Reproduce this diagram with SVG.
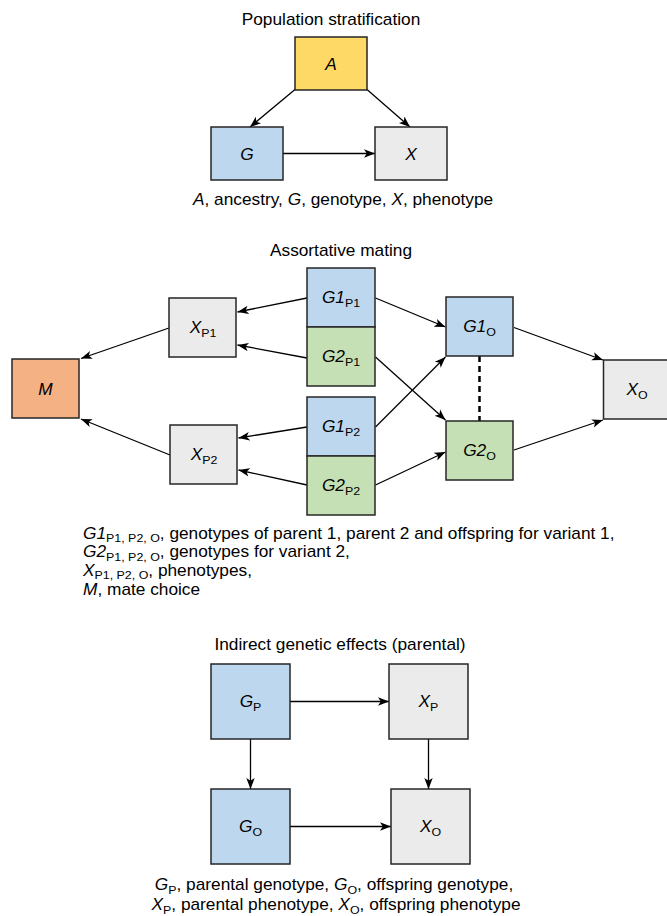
<svg xmlns="http://www.w3.org/2000/svg" width="667" height="916" viewBox="0 0 667 916">
<style>
text{font-family:"Liberation Sans",Arial,Helvetica,sans-serif;font-size:16px;fill:#000}
.i{font-style:italic}
.s{font-size:11.5px;font-style:normal}
.c{text-anchor:middle}
.box{stroke:#262626;stroke-width:1.5}
.yel{fill:#FFD966}.blu{fill:#BDD7EE}.grn{fill:#C5E0B4}.gry{fill:#EBEBEB}.org{fill:#F4B183}
.ln{stroke:#000;stroke-width:1.3;fill:none;marker-end:url(#ah)}
.dash{stroke:#000;stroke-width:2.5;stroke-dasharray:6 4;fill:none}
</style>
<defs>
<marker id="ah" markerUnits="userSpaceOnUse" markerWidth="12" markerHeight="10" viewBox="0 0 12 10" refX="11" refY="5" orient="auto">
<path d="M0,0.8 L11,5 L0,9.2 L2.8,5 Z" fill="#000"/>
</marker>
</defs>

<!-- Titles and captions -->
<g id="titles">
<g transform="translate(331,25) scale(1.08,1)"><text class="c">Population stratification</text></g>
<g transform="translate(193,204.5) scale(1.08,1)"><text><tspan class="i">A</tspan>, ancestry, <tspan class="i">G</tspan>, genotype, <tspan class="i">X</tspan>, phenotype</text></g>
<g transform="translate(341,255.5) scale(1.08,1)"><text class="c">Assortative mating</text></g>
<g transform="translate(83,538.5) scale(1.08,1)"><text><tspan class="i">G1</tspan><tspan class="s" dy="3.5">P1, P2, O</tspan><tspan dy="-3.5">, genotypes of parent 1, parent 2 and offspring for variant 1,</tspan></text></g>
<g transform="translate(83,557) scale(1.08,1)"><text><tspan class="i">G2</tspan><tspan class="s" dy="3.5">P1, P2, O</tspan><tspan dy="-3.5">, genotypes for variant 2,</tspan></text></g>
<g transform="translate(83,575.5) scale(1.08,1)"><text><tspan class="i">X</tspan><tspan class="s" dy="3.5">P1, P2, O</tspan><tspan dy="-3.5">, phenotypes,</tspan></text></g>
<g transform="translate(83,594.5) scale(1.08,1)"><text><tspan class="i">M</tspan>, mate choice</text></g>
<g transform="translate(340,649.5) scale(1.08,1)"><text class="c">Indirect genetic effects (parental)</text></g>
<g transform="translate(334,890) scale(1.08,1)"><text class="c"><tspan class="i">G</tspan><tspan class="s" dy="3.5">P</tspan><tspan dy="-3.5">, parental genotype, </tspan><tspan class="i">G</tspan><tspan class="s" dy="3.5">O</tspan><tspan dy="-3.5">, offspring genotype,</tspan></text></g>
<g transform="translate(336,910) scale(1.08,1)"><text class="c"><tspan class="i">X</tspan><tspan class="s" dy="3.5">P</tspan><tspan dy="-3.5">, parental phenotype, </tspan><tspan class="i">X</tspan><tspan class="s" dy="3.5">O</tspan><tspan dy="-3.5">, offspring phenotype</tspan></text></g>
</g>

<!-- Connectors -->
<g id="connectors">
<line class="ln" x1="295" y1="89.5" x2="250" y2="127"/>
<line class="ln" x1="367" y1="89.5" x2="410" y2="127"/>
<line class="ln" x1="283" y1="153.5" x2="375" y2="153.5"/>

<line class="ln" x1="307" y1="298" x2="237.5" y2="312"/>
<line class="ln" x1="307" y1="358" x2="237.5" y2="345"/>
<line class="ln" x1="169" y1="328" x2="81" y2="358.5"/>
<line class="ln" x1="170" y1="455" x2="81" y2="419"/>
<line class="ln" x1="307" y1="427" x2="238.5" y2="438"/>
<line class="ln" x1="307" y1="485" x2="238.5" y2="470"/>
<line class="ln" x1="375.5" y1="298" x2="445.5" y2="327"/>
<line class="ln" x1="375.5" y1="357" x2="445.5" y2="420"/>
<line class="ln" x1="375.5" y1="427" x2="445.5" y2="357"/>
<line class="ln" x1="375.5" y1="485" x2="445.5" y2="452"/>
<line class="ln" x1="514" y1="327.5" x2="603" y2="360"/>
<line class="ln" x1="514" y1="450" x2="603" y2="420"/>
<line class="dash" x1="479.5" y1="356" x2="479.5" y2="421"/>

<line class="ln" x1="290" y1="701.5" x2="389" y2="701.5"/>
<line class="ln" x1="250.5" y1="739" x2="250.5" y2="789"/>
<line class="ln" x1="428.5" y1="739" x2="428.5" y2="789"/>
<line class="ln" x1="290" y1="826.5" x2="391" y2="826.5"/>
</g>

<!-- Population stratification -->
<g id="nA"><rect class="box yel" x="295" y="37" width="72" height="53"/><g transform="translate(331,69.5) scale(1.08,1)"><text class="c i">A</text></g></g>
<g id="nG"><rect class="box blu" x="211" y="127" width="72" height="53"/><g transform="translate(247,159.5) scale(1.08,1)"><text class="c i">G</text></g></g>
<g id="nX"><rect class="box gry" x="375" y="127" width="72" height="53"/><g transform="translate(411,159.5) scale(1.08,1)"><text class="c i">X</text></g></g>

<!-- Assortative mating -->
<g id="nM"><rect class="box org" x="12" y="359" width="67" height="59"/><g transform="translate(45.5,394.5) scale(1.08,1)"><text class="c i">M</text></g></g>
<g id="nXP1"><rect class="box gry" x="169" y="298" width="67" height="59"/><g transform="translate(203,333) scale(1.08,1)"><text class="c"><tspan class="i">X</tspan><tspan class="s" dy="4">P1</tspan></text></g></g>
<g id="nXP2"><rect class="box gry" x="170" y="425" width="67" height="59"/><g transform="translate(204,460) scale(1.08,1)"><text class="c"><tspan class="i">X</tspan><tspan class="s" dy="4">P2</tspan></text></g></g>
<g id="nG1P1"><rect class="box blu" x="307" y="268" width="68" height="59"/><g transform="translate(341,303) scale(1.08,1)"><text class="c"><tspan class="i">G1</tspan><tspan class="s" dy="4">P1</tspan></text></g></g>
<g id="nG2P1"><rect class="box grn" x="307" y="327" width="68" height="59"/><g transform="translate(341,362) scale(1.08,1)"><text class="c"><tspan class="i">G2</tspan><tspan class="s" dy="4">P1</tspan></text></g></g>
<g id="nG1P2"><rect class="box blu" x="307" y="397" width="68" height="59"/><g transform="translate(341,432) scale(1.08,1)"><text class="c"><tspan class="i">G1</tspan><tspan class="s" dy="4">P2</tspan></text></g></g>
<g id="nG2P2"><rect class="box grn" x="307" y="456" width="68" height="59"/><g transform="translate(341,491) scale(1.08,1)"><text class="c"><tspan class="i">G2</tspan><tspan class="s" dy="4">P2</tspan></text></g></g>
<g id="nG1O"><rect class="box blu" x="446" y="297" width="67" height="59"/><g transform="translate(479.5,332) scale(1.08,1)"><text class="c"><tspan class="i">G1</tspan><tspan class="s" dy="4">O</tspan></text></g></g>
<g id="nG2O"><rect class="box grn" x="446" y="421" width="67" height="59"/><g transform="translate(479.5,456) scale(1.08,1)"><text class="c"><tspan class="i">G2</tspan><tspan class="s" dy="4">O</tspan></text></g></g>
<g id="nXO"><rect class="box gry" x="603.5" y="360" width="67" height="59"/><g transform="translate(637,395) scale(1.08,1)"><text class="c"><tspan class="i">X</tspan><tspan class="s" dy="4">O</tspan></text></g></g>

<!-- Indirect genetic effects -->
<g id="nGP"><rect class="box blu" x="211" y="664" width="79" height="75"/><g transform="translate(250.5,707) scale(1.08,1)"><text class="c"><tspan class="i">G</tspan><tspan class="s" dy="4">P</tspan></text></g></g>
<g id="nXPb"><rect class="box gry" x="389" y="664" width="79" height="75"/><g transform="translate(428.5,707) scale(1.08,1)"><text class="c"><tspan class="i">X</tspan><tspan class="s" dy="4">P</tspan></text></g></g>
<g id="nGO"><rect class="box blu" x="211" y="789" width="79" height="75"/><g transform="translate(250.5,832) scale(1.08,1)"><text class="c"><tspan class="i">G</tspan><tspan class="s" dy="4">O</tspan></text></g></g>
<g id="nXOb"><rect class="box gry" x="391" y="789" width="79" height="75"/><g transform="translate(430.5,832) scale(1.08,1)"><text class="c"><tspan class="i">X</tspan><tspan class="s" dy="4">O</tspan></text></g></g>
</svg>
